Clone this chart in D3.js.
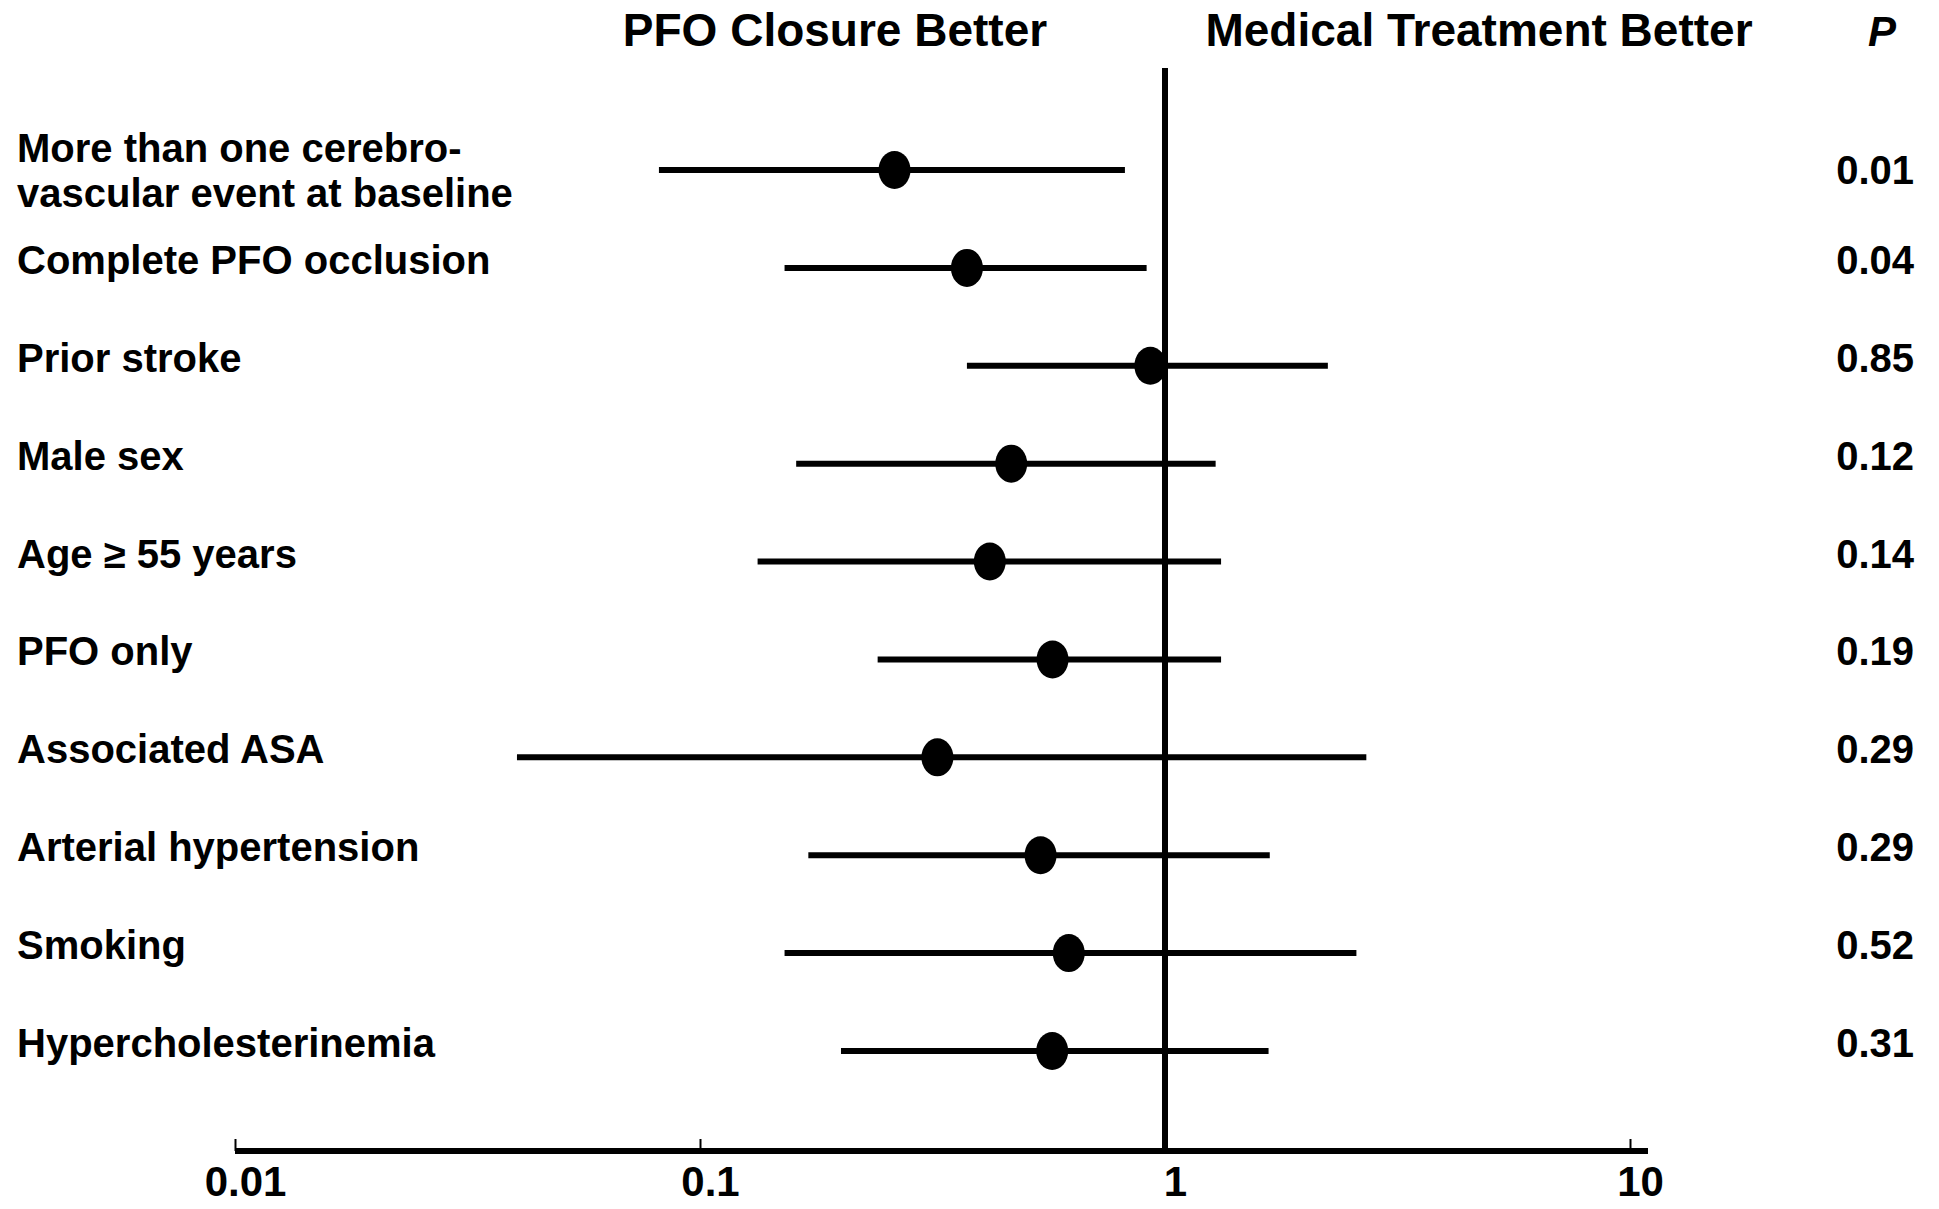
<!DOCTYPE html>
<html>
<head>
<meta charset="utf-8">
<script src="https://cdn.jsdelivr.net/npm/d3@7"></script>
<style>
  html, body { margin: 0; padding: 0; background: #fff; }
  svg { display: block; }
  text { font-family: "Liberation Sans", Arial, Helvetica, sans-serif; font-weight: bold; fill: #000; }
</style>
</head>
<body>
<svg id="chart" width="1939" height="1209"></svg>
<script>
// ---- data ----
const categories = [
  ["More than one cerebro-", "vascular event at baseline"],
  ["Complete PFO occlusion"],
  ["Prior stroke"],
  ["Male sex"],
  ["Age \u2265 55 years"],
  ["PFO only"],
  ["Associated ASA"],
  ["Arterial hypertension"],
  ["Smoking"],
  ["Hypercholesterinemia"]
];
const estimates = [0.262, 0.375, 0.93, 0.467, 0.42, 0.573, 0.324, 0.54, 0.621, 0.572];
const lowerCI   = [0.0816, 0.152, 0.375, 0.161, 0.133, 0.241, 0.0404, 0.171, 0.152, 0.201];
const upperCI   = [0.82, 0.913, 2.24, 1.285, 1.32, 1.32, 2.71, 1.68, 2.58, 1.67];
const pValues   = ["0.01", "0.04", "0.85", "0.12", "0.14", "0.19", "0.29", "0.29", "0.52", "0.31"];
const tickValues = [0.01, 0.1, 1, 10];
const tickLabels = ["0.01", "0.1", "1", "10"];
const headerLeft = "PFO Closure Better";
const headerRight = "Medical Treatment Better";
const headerP = "P";

// ---- layout ----
const svg = d3.select("#chart");
const x = d3.scaleLog().domain([0.01, 10]).range([235, 1630]);
const idx = d3.range(categories.length);
const y = d3.scalePoint().domain(idx).range([170, 1051]);
const axisY = 1151;
const textShift = i => (i === 0 ? 0 : -8);

// headers
svg.append("text").attr("x", 835).attr("y", 30).attr("text-anchor", "middle")
  .attr("dominant-baseline", "central").style("font-size", "46px").text(headerLeft);
svg.append("text").attr("x", 1479).attr("y", 30).attr("text-anchor", "middle")
  .attr("dominant-baseline", "central").style("font-size", "46px").text(headerRight);
svg.append("text").attr("x", 1896).attr("y", 31).attr("text-anchor", "end")
  .attr("dominant-baseline", "central").style("font-size", "42px").style("font-style", "italic").text(headerP);

// vertical reference line at 1
svg.append("line").attr("x1", x(1)).attr("x2", x(1)).attr("y1", 68).attr("y2", axisY)
  .attr("stroke", "#000").attr("stroke-width", 6);

// axis
const axis = d3.axisBottom(x).tickValues(tickValues)
  .tickFormat((d, i) => tickLabels[i]).tickSizeInner(-12).tickSizeOuter(0).tickPadding(15);
const gAxis = svg.append("g").attr("transform", `translate(0,${axisY})`).call(axis);
gAxis.select(".domain").remove();
gAxis.selectAll(".tick line").attr("stroke", "#000").attr("stroke-width", 2);
gAxis.selectAll(".tick text").attr("dx", 10).style("font-size", "42px")
  .style("font-family", "'Liberation Sans', Arial, sans-serif").style("font-weight", "bold").attr("fill", "#000");
gAxis.append("line").attr("x1", x(0.01)).attr("x2", x(10) + 18).attr("y1", 0).attr("y2", 0)
  .attr("stroke", "#000").attr("stroke-width", 6);

// CI lines
svg.append("g").selectAll("line").data(idx).join("line")
  .attr("x1", i => x(lowerCI[i])).attr("x2", i => x(upperCI[i]))
  .attr("y1", i => y(i)).attr("y2", i => y(i))
  .attr("stroke", "#000").attr("stroke-width", 6);

// point estimates
svg.append("g").selectAll("ellipse").data(idx).join("ellipse")
  .attr("cx", i => x(estimates[i])).attr("cy", i => y(i))
  .attr("rx", 16).attr("ry", 19).attr("fill", "#000");

// row labels
const labels = svg.append("g").selectAll("text").data(idx).join("text")
  .attr("x", 17).style("font-size", "40px").attr("dominant-baseline", "central");
labels.each(function(i) {
  const lines = categories[i];
  const t = d3.select(this);
  const lh = 45;
  const y0 = y(i) + textShift(i) - (lines.length - 1) * lh / 2;
  lines.forEach((s, k) => {
    t.append("tspan").attr("x", 17).attr("y", y0 + k * lh).text(s);
  });
});

// p-values
svg.append("g").selectAll("text").data(idx).join("text")
  .attr("x", 1914).attr("y", i => y(i) + textShift(i))
  .attr("text-anchor", "end").attr("dominant-baseline", "central")
  .style("font-size", "40px").text(i => pValues[i]);
</script>
</body>
</html>
